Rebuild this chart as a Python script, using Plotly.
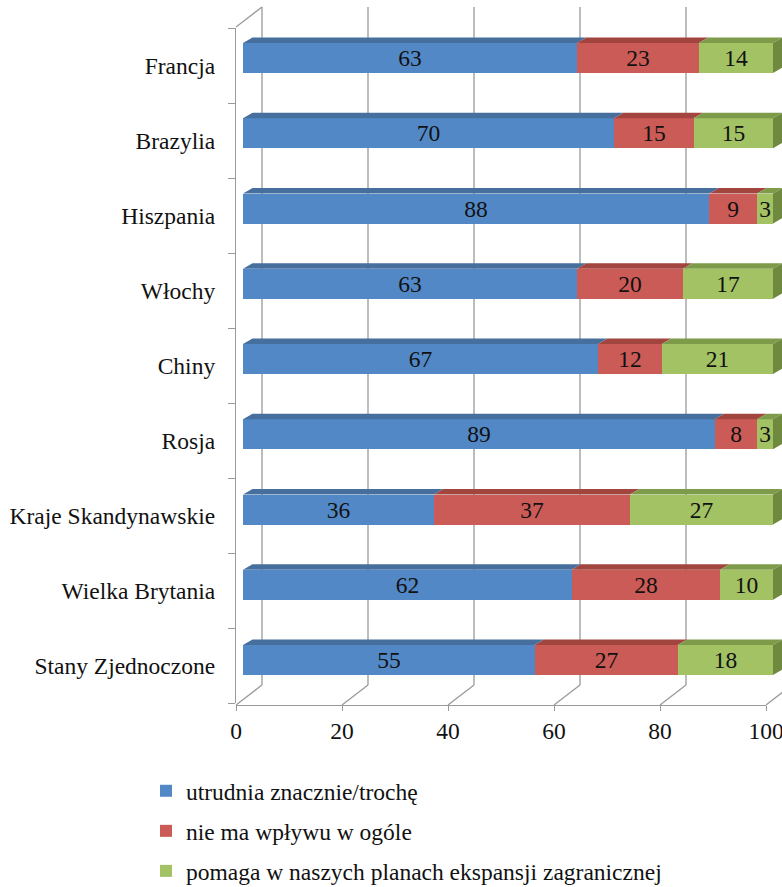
import plotly.graph_objects as go

# Share of firms by answer, per country (percent)
countries = [
    "Francja",
    "Brazylia",
    "Hiszpania",
    "Włochy",
    "Chiny",
    "Rosja",
    "Kraje Skandynawskie",
    "Wielka Brytania",
    "Stany Zjednoczone",
]
utrudnia = [63, 70, 88, 63, 67, 89, 36, 62, 55]
bez_wplywu = [23, 15, 9, 20, 12, 8, 37, 28, 27]
pomaga = [14, 15, 3, 17, 21, 3, 27, 10, 18]

series_names = [
    "utrudnia znacznie/trochę",
    "nie ma wpływu w ogóle",
    "pomaga w naszych planach ekspansji zagranicznej",
]
x_ticks = [0, 20, 40, 60, 80, 100]

# Styling
FRONT = ["#5288C6", "#CB5B57", "#A2C264"]
TOP = ["#466F9E", "#A2453F", "#7E9B4A"]
SIDE = "#6F8A3E"
AXIS = "#9a9a9a"
FONT = "Liberation Serif"
FS = 23.5
TXT = "#111111"

# Page and plot-area geometry (pixels)
W, H = 782, 887
L, R, T, B = 236, 0, 7, 182
plot_w = W - L - R
plot_h = H - T - B

PX_PER_UNIT = 5.3      # horizontal scale shared by all depth planes
BAR_X0 = 243           # value 0 on the bars' front face
BACK_X0 = 262          # value 0 on the back wall
FRONT_X0 = 236         # value 0 on the front floor edge
ROW = 75.25            # distance between rows
FIRST_ROW_Y = 58       # centre of the top bar's front face
BAR_H = 30             # bar front-face height
DEPTH_DX, DEPTH_DY = 9.5, 5.5   # bar depth offset
WALL_TOP_FRONT, WALL_TOP_BACK = 27, 7
FLOOR_BACK, FLOOR_FRONT = 685, 705
CAT_TOP, CAT_BOTTOM = 28, 703

n = len(countries)
x_range = [(L - BAR_X0) / PX_PER_UNIT, (W - R - BAR_X0) / PX_PER_UNIT]
y_range = [
    (n - 1) + (T + plot_h - (FIRST_ROW_Y + (n - 1) * ROW)) / ROW,
    -(FIRST_ROW_Y - T) / ROW,
]
back_shift = (BACK_X0 - BAR_X0) / PX_PER_UNIT
front_shift = (FRONT_X0 - BAR_X0) / PX_PER_UNIT
bar_w = BAR_H / ROW
dxu = DEPTH_DX / PX_PER_UNIT
dyu = DEPTH_DY / ROW


def paper_y(py):
    return (T + plot_h - py) / plot_h


def paper_x(px):
    return (px - L) / plot_w


fig = go.Figure()

series = [utrudnia, bez_wplywu, pomaga]
for name, vals, col in zip(series_names, series, FRONT):
    fig.add_trace(
        go.Bar(
            y=countries,
            x=vals,
            orientation="h",
            name=name,
            legendgroup=name,
            width=bar_w,
            marker=dict(color=col, line=dict(width=0)),
            text=vals,
            textposition="inside",
            insidetextanchor="middle",
            textangle=0,
            constraintext="none",
            textfont=dict(family=FONT, size=FS, color=TXT),
            hoverinfo="skip",
        )
    )

# helper traces so the front axes get their own subplots
fig.add_trace(go.Scatter(x=[None], y=[None], xaxis="x", yaxis="y2",
                         showlegend=False, hoverinfo="skip"))
fig.add_trace(go.Scatter(x=[None], y=[None], xaxis="x3", yaxis="y",
                         showlegend=False, hoverinfo="skip"))

shapes = []
line = dict(color=AXIS, width=1.3)

# back wall grid lines and floor lines
for v in x_ticks:
    if BACK_X0 + v * PX_PER_UNIT < W:
        shapes.append(dict(type="line", xref="x", yref="paper",
                           x0=v + back_shift, x1=v + back_shift,
                           y0=paper_y(FLOOR_BACK), y1=paper_y(WALL_TOP_BACK),
                           line=line, layer="below"))
    shapes.append(dict(type="line", xref="x", yref="paper",
                       x0=v + back_shift, y0=paper_y(FLOOR_BACK),
                       x1=v + front_shift, y1=paper_y(FLOOR_FRONT),
                       line=line, layer="below"))

# top edge of the side wall
shapes.append(dict(type="line", xref="x", yref="paper",
                   x0=front_shift, y0=paper_y(WALL_TOP_FRONT),
                   x1=back_shift, y1=paper_y(WALL_TOP_BACK),
                   line=line, layer="below"))

# 3D faces of the stacked bars
for i in range(n):
    top = i - bar_w / 2
    bot = i + bar_w / 2
    start = 0
    for k, vals in enumerate(series):
        x0 = start
        x1 = start + vals[i]
        start = x1
        shapes.append(dict(
            type="path", xref="x", yref="y",
            path=(f"M {x0},{top} L {x1},{top} L {x1 + dxu},{top - dyu} "
                  f"L {x0 + dxu},{top - dyu} Z"),
            fillcolor=TOP[k], line=dict(width=0), layer="above"))
        if k == len(series) - 1:
            shapes.append(dict(
                type="path", xref="x", yref="y",
                path=(f"M {x1},{top} L {x1 + dxu},{top - dyu} "
                      f"L {x1 + dxu},{bot - dyu} L {x1},{bot} Z"),
                fillcolor=SIDE, line=dict(width=0), layer="above"))

fig.update_layout(
    template="none",
    width=W,
    height=H,
    autosize=False,
    margin=dict(l=L, r=R, t=T, b=B, pad=0, autoexpand=False),
    paper_bgcolor="white",
    plot_bgcolor="rgba(0,0,0,0)",
    barmode="stack",
    bargap=0,
    font=dict(family=FONT, size=FS, color=TXT),
    shapes=shapes,
    showlegend=True,
    legend=dict(
        x=paper_x(146),
        y=paper_y(769),
        xanchor="left",
        yanchor="top",
        orientation="v",
        traceorder="grouped",
        tracegroupgap=6.5,
        itemwidth=30,
        font=dict(family=FONT, size=FS, color=TXT),
        bgcolor="rgba(0,0,0,0)",
        borderwidth=0,
    ),
    xaxis=dict(range=x_range, visible=False, fixedrange=True, automargin=False),
    yaxis=dict(
        type="category",
        categoryorder="array",
        categoryarray=countries,
        range=y_range,
        visible=False,
        fixedrange=True,
        automargin=False,
    ),
    yaxis2=dict(
        anchor="x",
        side="left",
        domain=[paper_y(CAT_BOTTOM), paper_y(CAT_TOP)],
        range=[n - 0.5, -0.5],
        tickmode="array",
        tickvals=list(range(n)),
        ticktext=countries,
        ticks="",
        ticklabelstandoff=15,
        minor=dict(
            tickmode="array",
            tickvals=[i - 0.5 for i in range(n + 1)],
            ticks="outside",
            ticklen=7,
            tickwidth=1.3,
            tickcolor=AXIS,
            showgrid=False,
        ),
        showline=True,
        linecolor=AXIS,
        linewidth=1.3,
        showgrid=False,
        zeroline=False,
        automargin=False,
        tickfont=dict(family=FONT, size=FS, color=TXT),
        fixedrange=True,
    ),
    xaxis3=dict(
        anchor="y",
        side="bottom",
        domain=[0, paper_x(FRONT_X0 + 100 * PX_PER_UNIT)],
        range=[0, 100],
        tickmode="array",
        tickvals=x_ticks,
        ticks="outside",
        ticklen=5,
        tickwidth=1.3,
        tickcolor=AXIS,
        ticklabeloverflow="allow",
        showline=True,
        linecolor=AXIS,
        linewidth=1.3,
        showgrid=False,
        zeroline=False,
        automargin=False,
        tickfont=dict(family=FONT, size=FS, color=TXT),
        fixedrange=True,
    ),
)

fig.write_html("out.html", config={"displayModeBar": False})
